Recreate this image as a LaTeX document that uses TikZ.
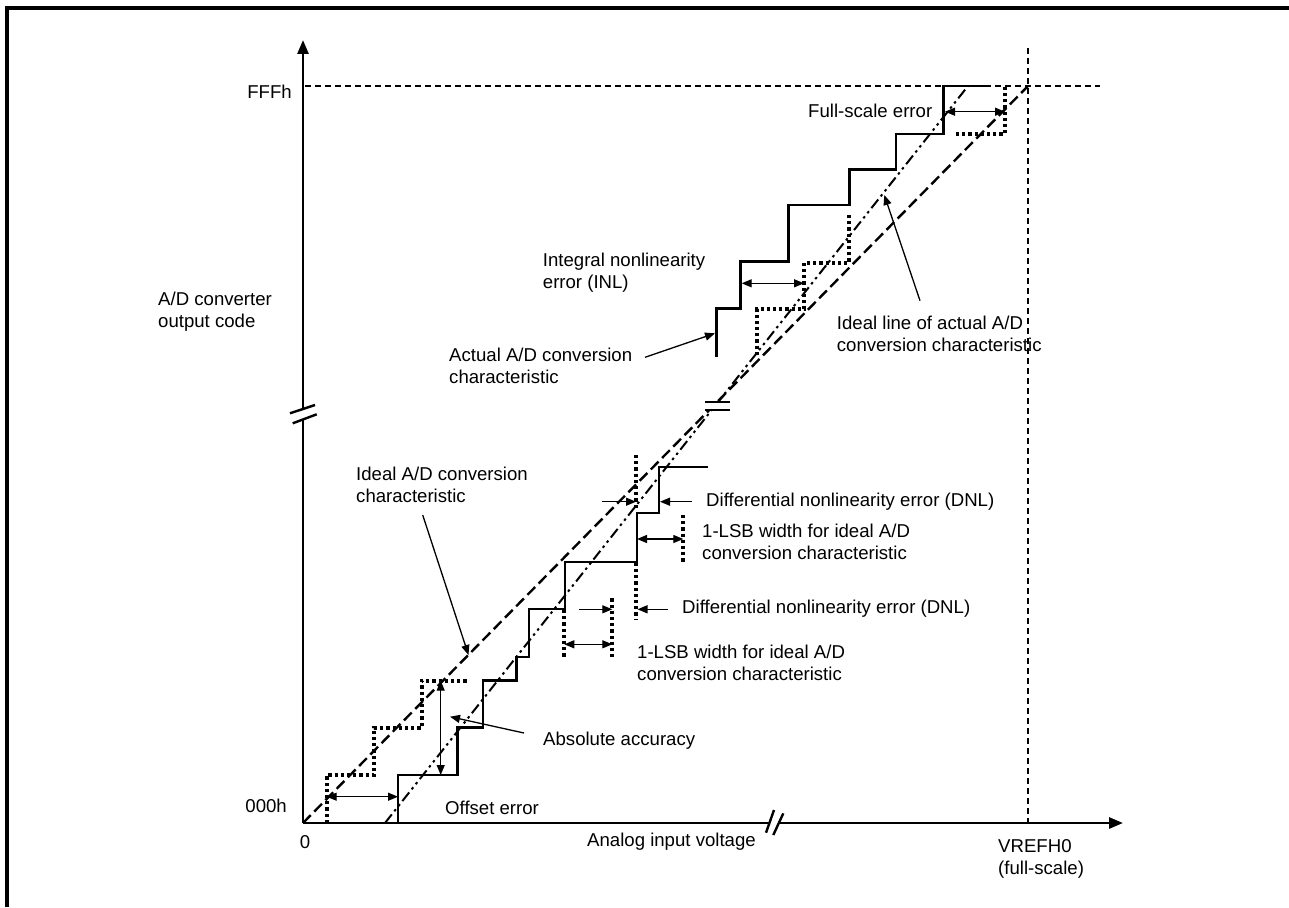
\documentclass[tikz,border=0pt]{standalone}
\usepackage{fontspec}
\setmainfont{Liberation Sans}
\usetikzlibrary{arrows.meta}
\begin{document}
\begin{tikzpicture}[x=1pt,y=-1pt,
 lbl/.style={anchor=west,inner sep=0pt,align=left,font=\fontsize{18.6}{22}\selectfont},
 axisline/.style={line width=2.8pt,-{Triangle[length=14pt,width=11pt]}},
 refline/.style={line width=2.4pt,dash pattern=on 6pt off 4pt},
 idealline/.style={line width=2.4pt,dash pattern=on 11pt off 5pt},
 actline/.style={line width=2pt,dash pattern=on 11pt off 4pt on 2.5pt off 4pt on 2.5pt off 4pt},
 dotstep/.style={line width=3.8pt,dash pattern=on 3.2pt off 3pt},
 solidstep/.style={line width=2.8pt},
 dimarrow/.style={line width=1.3pt,{Triangle[length=10pt,width=8pt]}-{Triangle[length=10pt,width=8pt]}},
 ptr/.style={line width=1.3pt,-{Triangle[length=10pt,width=8pt]}},
 breakline/.style={line width=2.4pt},
]
\useasboundingbox (0,0) rectangle (1289,907);
\fill[white] (0,0) rectangle (1289,907);
% frame
\draw[line width=3.6pt] (7,907) -- (7,8) -- (1289,8);

% named coordinates
\coordinate (O) at (303,823);
\coordinate (ytop) at (303,40);
\coordinate (xend) at (1123,823);
\coordinate (F0) at (305,86);
\coordinate (F1) at (1100,86);
\coordinate (V0) at (1028,48);
\coordinate (V1) at (1028,823);
\coordinate (FS) at (1028,86);
\coordinate (A0) at (385,823);
\coordinate (A1) at (968,86);

% reference lines
\draw[refline] (F0) -- (F1);
\draw[refline] (V0) -- (V1);
% ideal characteristic and ideal line of actual characteristic
\draw[idealline] (O) -- (FS);
\draw[actline] (A0) -- (A1);

% dotted ideal steps
\draw[dotstep] (326.7,823) -- (326.7,775) -- (374,775) -- (374,727.7) -- (421.7,727.7) -- (421.7,680.7) -- (466.7,680.7);
\draw[dotstep] (564.3,610) -- (564.3,656.7);
\draw[dotstep] (612.3,598.3) -- (612.3,656.7);
\draw[dotstep] (636,562.7) -- (636,620);
\draw[dotstep] (636,455) -- (636,508);
\draw[dotstep] (683.3,515) -- (683.3,561.7);
\draw[dotstep] (756.7,355) -- (756.7,309.3) -- (804,309.3) -- (804,262.7) -- (849.3,262.7) -- (849.3,215);
\draw[dotstep] (956,134) -- (1005,134) -- (1005,86);

% solid actual steps
\draw[solidstep] (398,823) -- (398,775) -- (457.7,775) -- (457.7,727.7) -- (483,727.7) -- (483,680.7) -- (516.7,680.7) -- (516.7,657) -- (529,657) -- (529,609) -- (565,609) -- (565,562) -- (637,562) -- (637,513) -- (659,513) -- (659,467) -- (708,467);
\draw[solidstep] (716.7,356.7) -- (716.7,308.3) -- (740.7,308.3) -- (740.7,261.5) -- (788.3,261.5) -- (788.3,205) -- (849.3,205) -- (849.3,169.3) -- (896,169.3) -- (896,134) -- (943.3,134) -- (943.3,86) -- (990,86);

% axes
\draw[axisline] (O) -- (ytop);
\draw[axisline] (O) -- (xend);

% breaks
\fill[white] (290,413.3) -- (315,405) -- (316.7,414.3) -- (292.7,423.3) -- cycle;
\draw[breakline] (290,413.3) -- (315,405);
\draw[breakline] (292.7,423.3) -- (316.7,414.3);
\fill[white] (766,832.7) -- (774,810) -- (783.3,813.3) -- (773.3,835) -- cycle;
\draw[breakline] (766,832.7) -- (774,810);
\draw[breakline] (773.3,835) -- (783.3,813.3);
\fill[white] (704,402) rectangle (731,410);
\draw[breakline] (705,402) -- (730,402);
\draw[breakline] (705,410) -- (730,410);

% axis labels
\node[lbl,anchor=east] (fff) at (292,92) {FFFh};
\node[lbl,anchor=east] (zzz) at (287,806) {000h};
\node[lbl,anchor=center] (zero) at (305,842) {0};
\node[lbl] (xlab) at (587,842) {Analog input voltage};
\node[lbl] (vref) at (998,859) {VREFH0\\(full-scale)};
\node[lbl] (ylab) at (158,312) {A/D converter\\output code};

% annotation labels
\node[lbl] (idealA) at (356,485) {Ideal A/D conversion\\characteristic};
\node[lbl] (actual) at (449,366) {Actual A/D conversion\\characteristic};
\node[lbl] (inl) at (542.7,272.5) {Integral nonlinearity\\error (INL)};
\node[lbl] (idline) at (836.7,334) {Ideal line of actual A/D\\conversion characteristic};
\node[lbl] (fse) at (808,111) {Full-scale error};
\node[lbl] (dnlU) at (706,502) {Differential nonlinearity error (DNL)};
\node[lbl] (lsbU) at (702,542) {1-LSB width for ideal A/D\\conversion characteristic};
\node[lbl] (dnlL) at (682,609) {Differential nonlinearity error (DNL)};
\node[lbl] (lsbL) at (637,663) {1-LSB width for ideal A/D\\conversion characteristic};
\node[lbl] (absacc) at (543,741) {Absolute accuracy};
\node[lbl] (offs) at (445,808) {Offset error};

% annotation arrows
\coordinate (oe1) at (326.7,796.7); \coordinate (oe2) at (398,796.7);
\draw[dimarrow] (oe1) -- (oe2);
\coordinate (aa1) at (440.7,680.7); \coordinate (aa2) at (440.7,775);
\draw[dimarrow] (aa1) -- (aa2);
\coordinate (aas) at (524,733); \coordinate (aat) at (450,716.7);
\draw[ptr] (aas) -- (aat);
\coordinate (ias) at (422.7,515); \coordinate (iat) at (468.5,655);
\draw[ptr] (ias) -- (iat);
\coordinate (ll1) at (564.3,644.3); \coordinate (ll2) at (612.3,644.3);
\draw[dimarrow] (ll1) -- (ll2);
\coordinate (dl1) at (579.3,609.3); \coordinate (dl2) at (612.3,609.3);
\draw[ptr] (dl1) -- (dl2);
\coordinate (dl3) at (668,609.3); \coordinate (dl4) at (637.5,609.3);
\draw[ptr] (dl3) -- (dl4);
\coordinate (du1) at (602.3,501.7); \coordinate (du2) at (636,501.7);
\draw[ptr] (du1) -- (du2);
\coordinate (du3) at (691.7,501.7); \coordinate (du4) at (660,501.7);
\draw[ptr] (du3) -- (du4);
\coordinate (lu1) at (637,539); \coordinate (lu2) at (683.3,539);
\draw[dimarrow] (lu1) -- (lu2);
\coordinate (acs) at (645,357.3); \coordinate (act) at (715,333.3);
\draw[ptr] (acs) -- (act);
\coordinate (in1) at (741.7,283.3); \coordinate (in2) at (804,283.3);
\draw[dimarrow] (in1) -- (in2);
\coordinate (ils) at (920,300.7); \coordinate (ilt) at (884.3,195);
\draw[ptr] (ils) -- (ilt);
\coordinate (fs1) at (945,111.7); \coordinate (fs2) at (1005,111.7);
\draw[dimarrow] (fs1) -- (fs2);
\end{tikzpicture}
\end{document}
